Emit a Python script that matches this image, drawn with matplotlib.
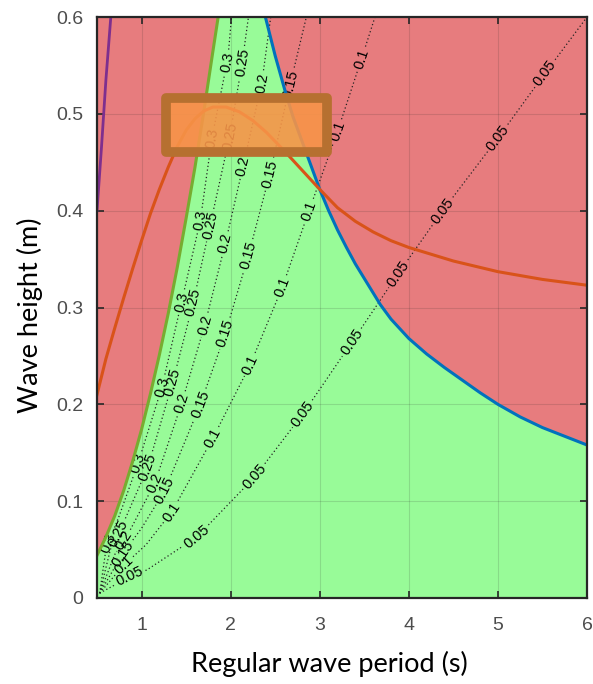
import numpy as np
import matplotlib
matplotlib.use("Agg")
import matplotlib.pyplot as plt
from matplotlib.patches import Rectangle

# ---------------- data ----------------
# green curve (breaking / steepness limit)
green_T = [0.50, 0.60, 0.70, 0.80, 0.90, 1.00, 1.10, 1.20, 1.30, 1.40, 1.50, 1.60, 1.70, 1.80, 1.86]
green_H = [0.044, 0.063, 0.085, 0.111, 0.141, 0.174, 0.211, 0.251, 0.294, 0.341, 0.392, 0.445, 0.503, 0.564, 0.600]

# blue curve
blue_T = [2.39, 2.50, 2.61, 2.70, 2.80, 2.90, 3.00, 3.10, 3.20, 3.30, 3.40, 3.50, 3.68, 3.80,
          4.00, 4.20, 4.40, 4.60, 4.80, 5.00, 5.25, 5.50, 5.75, 6.00]
blue_H = [0.600, 0.560, 0.524, 0.497, 0.472, 0.447, 0.422, 0.400, 0.380, 0.362, 0.345, 0.330, 0.303, 0.288,
          0.268, 0.252, 0.238, 0.225, 0.212, 0.200, 0.187, 0.176, 0.167, 0.158]

# orange curve
orange_T = [0.50, 0.60, 0.70, 0.80, 0.90, 1.00, 1.10, 1.20, 1.30, 1.40, 1.50, 1.60, 1.70, 1.80, 1.95,
            2.10, 2.25, 2.40, 2.60, 2.80, 3.00, 3.20, 3.40, 3.60, 3.80, 4.00, 4.50, 5.00, 5.50, 6.00]
orange_H = [0.210, 0.247, 0.279, 0.310, 0.340, 0.369, 0.397, 0.422, 0.445, 0.466, 0.483, 0.495, 0.503, 0.507, 0.507,
            0.502, 0.493, 0.481, 0.462, 0.442, 0.422, 0.403, 0.389, 0.378, 0.369, 0.362, 0.348, 0.337, 0.329, 0.323]

# purple curve
purple_T = [0.50, 0.55, 0.60, 0.655]
purple_H = [0.400, 0.465, 0.535, 0.600]

# dotted contour lines (T, H, label positions in T)
c030_T = [0.53, 0.60, 0.75, 0.96, 1.23, 1.45, 1.66, 1.79, 1.97, 2.01]
c030_H = [0.005, 0.050, 0.085, 0.139, 0.218, 0.306, 0.390, 0.475, 0.558, 0.600]
c030_lab = [0.63, 0.96, 1.23, 1.45, 1.66, 1.79, 1.96]

c025_T = [0.53, 0.65, 0.78, 1.07, 1.35, 1.58, 1.77, 1.99, 2.13, 2.20]
c025_H = [0.005, 0.050, 0.074, 0.135, 0.223, 0.305, 0.385, 0.477, 0.553, 0.600]
c025_lab = [0.74, 1.07, 1.35, 1.58, 1.77, 1.99, 2.13]

c020_T = [0.53, 0.70, 0.86, 1.15, 1.45, 1.71, 1.94, 2.14, 2.35, 2.45]
c020_H = [0.005, 0.045, 0.068, 0.119, 0.201, 0.282, 0.366, 0.446, 0.532, 0.600]
c020_lab = [0.80, 1.15, 1.45, 1.71, 1.94, 2.14, 2.35]

c015_T = [0.53, 0.79, 1.00, 1.26, 1.66, 1.94, 2.20, 2.44, 2.67, 2.85]
c015_H = [0.005, 0.046, 0.072, 0.111, 0.200, 0.273, 0.354, 0.438, 0.531, 0.600]
c015_lab = [0.79, 1.26, 1.66, 1.94, 2.20, 2.44, 2.67]

c010_T = [0.53, 0.78, 1.05, 1.34, 1.80, 2.22, 2.58, 2.88, 3.20, 3.47, 3.62]
c010_H = [0.005, 0.032, 0.055, 0.089, 0.165, 0.241, 0.321, 0.400, 0.482, 0.557, 0.600]
c010_lab = [0.80, 1.34, 1.80, 2.22, 2.58, 2.88, 3.20, 3.47]

c005_T = [0.53, 0.87, 1.06, 1.62, 2.27, 2.81, 3.36, 3.88, 4.38, 5.00, 5.53, 6.00]
c005_H = [0.005, 0.022, 0.029, 0.063, 0.125, 0.190, 0.264, 0.335, 0.400, 0.475, 0.542, 0.600]
c005_lab = [0.87, 1.62, 2.27, 2.81, 3.36, 3.88, 4.38, 5.00, 5.53]

levels = ["0.3", "0.25", "0.2", "0.15", "0.1", "0.05"]
contours = [(c030_T, c030_H, c030_lab), (c025_T, c025_H, c025_lab),
            (c020_T, c020_H, c020_lab), (c015_T, c015_H, c015_lab),
            (c010_T, c010_H, c010_lab), (c005_T, c005_H, c005_lab)]

x_ticks = [1, 2, 3, 4, 5, 6]
y_ticks = [0, 0.1, 0.2, 0.3, 0.4, 0.5, 0.6]
y_ticklabels = ["0", "0.1", "0.2", "0.3", "0.4", "0.5", "0.6"]

# ---------------- figure ----------------
W, Hh = 593, 684
fig = plt.figure(figsize=(W / 100, Hh / 100), dpi=100)
ax = fig.add_axes([97 / W, 86 / Hh, 490 / W, 581 / Hh])
ax.set_xlim(0.5, 6)
ax.set_ylim(0, 0.6)

RED = "#E77C7E"
GREEN = "#98FB98"
ax.set_facecolor(RED)

# green (feasible) region under green and blue curves
poly_T = [0.5] + green_T + blue_T + [6.0]
poly_H = [0.0] + green_H + blue_H + [0.0]
ax.fill(poly_T, poly_H, color=GREEN, lw=0, zorder=1)

# grid
ax.set_axisbelow("line")
ax.grid(True, color="#262626", alpha=0.15, lw=0.8)

# contour lines with inline labels
fs = 10.5
fs_px = fs * 100 / 72


def draw_contour(T, H, labT, text):
    T = np.asarray(T, float)
    H = np.asarray(H, float)
    pts = ax.transData.transform(np.column_stack([T, H]))
    seg = np.hypot(np.diff(pts[:, 0]), np.diff(pts[:, 1]))
    s = np.concatenate([[0.0], np.cumsum(seg)])
    nd = sum(c.isdigit() for c in text)
    width = (nd * 0.556 + 0.278) * fs_px
    half = width / 2 + 2.5
    cuts = []
    inv = ax.transData.inverted()
    for tl in labT:
        sl = np.interp(tl, T, s)
        cuts.append((sl - half, sl + half))
        p0 = np.array([np.interp(sl - 4, s, pts[:, 0]), np.interp(sl - 4, s, pts[:, 1])])
        p1 = np.array([np.interp(sl + 4, s, pts[:, 0]), np.interp(sl + 4, s, pts[:, 1])])
        ang = np.degrees(np.arctan2(p1[1] - p0[1], p1[0] - p0[0]))
        if ang > 90:
            ang -= 180
        if ang < -90:
            ang += 180
        pc = inv.transform([np.interp(sl, s, pts[:, 0]), np.interp(sl, s, pts[:, 1])])
        ax.text(pc[0], pc[1], text, rotation=ang, rotation_mode="anchor",
                ha="center", va="center", fontsize=fs, family="Liberation Sans",
                color="black", zorder=2.2, clip_on=True)

    def seg_draw(a, b):
        mask = (s > a) & (s < b)
        sv = np.concatenate([[a], s[mask], [b]])
        xs = np.interp(sv, s, pts[:, 0])
        ys = np.interp(sv, s, pts[:, 1])
        d = inv.transform(np.column_stack([xs, ys]))
        ax.plot(d[:, 0], d[:, 1], color="#222222", lw=0.9,
                linestyle=(0, (1, 2)), zorder=2.1)

    start = 0.0
    for a, b in sorted(cuts):
        if a > start:
            seg_draw(start, a)
        start = max(start, b)
    if start < s[-1]:
        seg_draw(start, s[-1])


for text, (T, H, labT) in zip(levels, contours):
    draw_contour(T, H, labT, text)

# main curves
ax.plot(green_T, green_H, color="#77AC30", lw=2.2, zorder=3)
ax.plot(blue_T, blue_H, color="#0072BD", lw=2.2, zorder=3)
ax.plot(orange_T, orange_H, color="#D95319", lw=2.2, zorder=3)
ax.plot(purple_T, purple_H, color="#7E2F8E", lw=2.0, zorder=3)

# highlight rectangle
rect = Rectangle((1.274, 0.461), 3.081 - 1.274, 0.516 - 0.461,
                 facecolor=(247 / 255, 148 / 255, 72 / 255, 0.9),
                 edgecolor="#B67030", lw=7, joinstyle="round", zorder=4)
ax.add_patch(rect)

# axes styling
ax.set_xticks(x_ticks)
ax.set_xticklabels([str(t) for t in x_ticks])
ax.set_yticks(y_ticks)
ax.set_yticklabels(y_ticklabels)
ax.tick_params(direction="in", length=5, width=1.2, color="#262626",
               top=True, right=True, labelsize=14, labelcolor="#4d4d4d")
ax.tick_params(axis="x", pad=14)
ax.tick_params(axis="y", pad=10)
for lab in ax.get_xticklabels() + ax.get_yticklabels():
    lab.set_family("Liberation Sans")
for sp in ax.spines.values():
    sp.set_color("#262626")
    sp.set_linewidth(1.6)
    sp.set_zorder(5)

ax.set_xlabel("Regular wave period (s)", fontsize=19.5, family="Lato", color="black")
ax.set_ylabel("Wave height (m)", fontsize=19.5, family="Lato", color="black")
ax.xaxis.set_label_coords((329 - 97) / 490, (598 - 651) / 581)
ax.yaxis.set_label_coords((43 - 97) / 490, (598 - 315) / 581)

fig.savefig("out.png", dpi=100)
